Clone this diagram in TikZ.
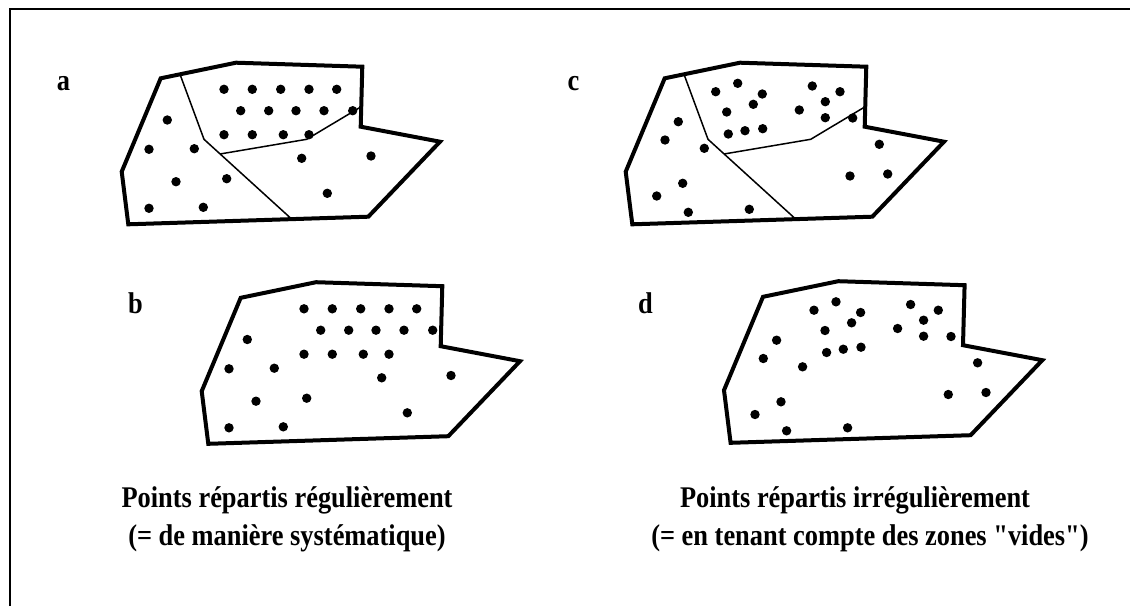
\documentclass[tikz,border=0pt]{standalone}
\usepackage{fontspec}
\setmainfont{Liberation Serif}[FakeStretch=0.88, Ligatures=TeXOff]

\begin{document}
\begin{tikzpicture}[
    x=0.5pt, y=-0.5pt,
    frame/.style={line width=1.35pt},
    outline/.style={line width=2pt, line join=miter},
    cut/.style={line width=0.75pt},
    dot/.style={fill=black},
    letter/.style={anchor=base, inner sep=0pt, font=\fontsize{15pt}{18pt}\selectfont\bfseries},
    caption/.style={anchor=base, inner sep=0pt, font=\fontsize{15pt}{18pt}\selectfont\bfseries}
]
\useasboundingbox (0,0) rectangle (1130,606);

% frame
\draw[frame] (10,606) -- (10,9) -- (1130,9);

% outlines of the four zones
\foreach \dx/\dy in {0/0, 80/219.5, 504/0, 602.3/218.5}
  \draw[outline, shift={(\dx,\dy)}] (160.7,78.3) -- (236,62.7) -- (362.3,66.7)
    -- (360.7,126.7) -- (440,141.7) -- (368.3,216.7) -- (128.3,224.3)
    -- (121.7,171.7) -- cycle;

% sub-zones in a and c
\foreach \dx in {0, 504} {
  \draw[cut, shift={(\dx,0)}] (180,74.3) -- (204,139.3) -- (291.7,219.1);
  \draw[cut, shift={(\dx,0)}] (220,154) -- (306.7,139.3) -- (361.2,106.7);
}

% regular points (a, b)
\foreach \dx/\dy in {0/0, 80/219.5}
  \foreach \p in {(224,89.3), (252.3,89.3), (280.7,89.3), (309,89.3), (336.7,89.3),
                  (240.7,110.7), (268.7,110.7), (296,110.7), (324,110.7), (352.7,110.7),
                  (224,134.7), (252.3,134.7), (283.3,134.7), (309,134.7),
                  (167.3,120), (149,149.3), (194.3,148.7), (176,181.7), (226.7,178.7),
                  (149,208.3), (203.3,207.3), (301.7,158.3), (371,156), (327.3,193.3)}
    \fill[dot, shift={(\dx,\dy)}] \p circle[radius=2.35pt];

% irregular points (c, d)
\foreach \dx/\dy in {504/0, 602.3/218.5}
  \foreach \p in {(211.7,91.7), (233.7,83.3), (258.3,94), (249.3,104.3), (222.7,112),
                  (224.3,134), (241,130.7), (258.7,128.7), (308.3,86), (336,91.7),
                  (321.3,101.7), (295.3,110), (321.3,117.7), (348.7,118),
                  (174.3,121.7), (161,140), (200.3,148.3), (178.7,183.3), (152.7,196),
                  (184.3,212.3), (245.3,209.3), (375.3,144.3), (346,176), (383.7,174)}
    \fill[dot, shift={(\dx,\dy)}] \p circle[radius=2.35pt];

% panel letters
\node[letter] (la) at (63.5,90) {a};
\node[letter] (lb) at (135.5,313) {b};
\node[letter] (lc) at (573.5,90) {c};
\node[letter] (ld) at (645.5,313) {d};

% captions
\node[caption] (regA) at (287,507) {Points répartis régulièrement};
\node[caption] (regB) at (287,545) {(= de manière systématique)};
\node[caption] (irrA) at (855,507) {Points répartis irrégulièrement};
\node[caption] (irrB) at (870,545) {(= en tenant compte des zones "vides")};

\end{tikzpicture}
\end{document}
